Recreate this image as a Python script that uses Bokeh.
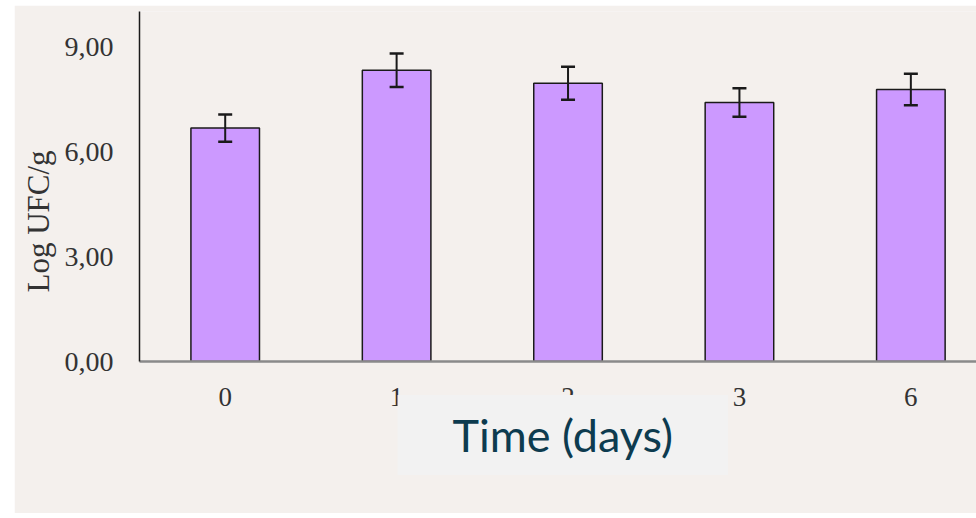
from bokeh.plotting import figure
from bokeh.models import (ColumnDataSource, Range1d, FixedTicker, Whisker, TeeHead,
                          Title, Spacer)
from bokeh.layouts import row, column
from bokeh.embed import file_html
from bokeh.resources import INLINE

# ---- data ----
days = ["0", "1", "2", "3", "6"]
log_ufc = [6.67, 8.32, 7.95, 7.40, 7.77]
err = [0.39, 0.48, 0.47, 0.41, 0.45]
y_ticks = [0, 3, 6, 9]
y_tick_labels = ["0,00", "3,00", "6,00", "9,00"]
y_label = "Log UFC/g"
x_title = "Time (days)"

BG = "#f4f0ed"
SERIF = "Liberation Serif"

idx = list(range(len(days)))
src = ColumnDataSource(dict(
    x=idx, top=log_ufc,
    upper=[v + e for v, e in zip(log_ufc, err)],
    lower=[v - e for v, e in zip(log_ufc, err)],
))

p = figure(width=962, height=508, x_range=Range1d(-0.5, 4.383), y_range=Range1d(0, 10),
           output_backend="svg", toolbar_location=None,
           min_border_left=125, min_border_right=0, min_border_top=6, min_border_bottom=152,
           background_fill_color=BG, border_fill_color=BG, outline_line_color=None)
p.grid.visible = False

p.vbar(x="x", top="top", width=0.4, source=src, fill_color="#cc99ff",
       line_color="#1a1a1a", line_width=1.5)

p.add_layout(Whisker(base="x", upper="upper", lower="lower", source=src, level="overlay",
                     line_color="#1a1a1a", line_width=2,
                     upper_head=TeeHead(size=14, line_width=2.5, line_color="#1a1a1a"),
                     lower_head=TeeHead(size=14, line_width=2.5, line_color="#1a1a1a")))

# x axis
xa = p.xaxis[0]
xa.ticker = FixedTicker(ticks=idx)
xa.major_label_overrides = {i: d for i, d in zip(idx, days)}
xa.axis_line_color = "#8a8a8a"
xa.axis_line_width = 2.5
xa.major_tick_line_color = None
xa.minor_tick_line_color = None
xa.major_label_text_font = SERIF
xa.major_label_text_font_size = "27px"
xa.major_label_text_color = "#333333"
xa.major_label_standoff = 20

# y axis
ya = p.yaxis[0]
ya.ticker = FixedTicker(ticks=y_ticks)
ya.major_label_overrides = {t: l for t, l in zip(y_ticks, y_tick_labels)}
ya.axis_line_color = "#1a1a1a"
ya.axis_line_width = 1.5
ya.major_tick_line_color = None
ya.minor_tick_line_color = None
ya.major_label_text_font = SERIF
ya.major_label_text_font_size = "28px"
ya.major_label_text_color = "#333333"
ya.major_label_standoff = 20

# y-axis title (side title so it can sit lower than the frame centre)
p.add_layout(Title(text=y_label, align="left", offset=69, vertical_align="middle", standoff=10,
                   text_font=SERIF, text_font_size="31px", text_font_style="normal",
                   text_color="#333333"), "left")

# boxed x title
p.add_layout(Title(text=x_title, align="left", offset=258, standoff=-31,
                   text_font="Lato", text_font_size="45px", text_font_style="normal",
                   text_color="#0d3b4f", background_fill_color="#f2f2f2",
                   padding=dict(left=55, right=55, top=13, bottom=13)), "below")

layout = column(Spacer(width=976, height=5),
                row(Spacer(width=14, height=508), p))
open("out.html", "w").write(file_html(layout, INLINE))
